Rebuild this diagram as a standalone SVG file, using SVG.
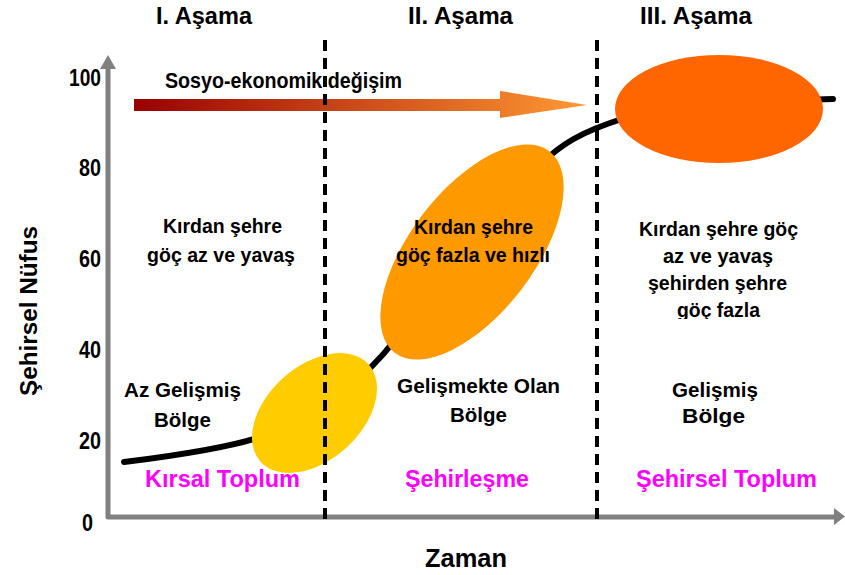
<svg xmlns="http://www.w3.org/2000/svg" width="845" height="575" viewBox="0 0 845 575">
<defs>
<style>
text{font-family:"Liberation Sans",Arial,sans-serif;font-weight:bold;fill:#000}
.t{font-size:21px}
.n{font-size:23px}
.h{font-size:23px}
.m{font-size:24px;fill:#FF00FF}
.axis{fill:none;stroke:#808080;stroke-width:5;stroke-linejoin:round}
.dash{stroke:#000;stroke-width:4;stroke-dasharray:11 7;fill:none}
</style>
<linearGradient id="grad" gradientUnits="userSpaceOnUse" x1="134" y1="0" x2="587" y2="0">
<stop offset="0" stop-color="#990000"/>
<stop offset="1" stop-color="#FF9933"/>
</linearGradient>
<clipPath id="clipLast"><rect x="600" y="290" width="245" height="29"/></clipPath>
</defs>
<rect width="845" height="575" fill="#fff"/>

<g id="axes">
<path class="axis" d="M108,68 L108,517 L836,517"/>
<polygon points="100,69 116,69 108,55" fill="#808080"/>
<polygon points="834,508 845,516.5 834,525" fill="#808080"/>
</g>

<g id="connectors">
<path d="M124,462 C180,455 230,447 260,437 L300,415 C330,400 360,385 395,340 L540,165 C560,145 580,132 625,118 L700,105 C760,100 800,100 833,99" fill="none" stroke="#000" stroke-width="6" stroke-linecap="round"/>
</g>

<g id="node-kirsal">
<ellipse cx="314.5" cy="413" rx="72.7" ry="47" transform="rotate(-42 314.5 413)" fill="#FFCC00"/>
</g>
<g id="node-gelismekte">
<ellipse cx="472" cy="252" rx="127" ry="62" transform="rotate(-52.5 472 252)" fill="#FF9900"/>
</g>
<g id="node-gelismis">
<ellipse cx="719" cy="109" rx="104" ry="54" fill="#FF6600"/>
</g>

<g id="socio-arrow">
<polygon points="134,99 500,99 500,91 587,105 500,118 500,111 134,111" fill="url(#grad)"/>
<text style="font-size:22px" x="165" y="88" textLength="237" lengthAdjust="spacingAndGlyphs">Sosyo-ekonomik değişim</text>
</g>

<g id="headings">
<text class="h" x="156" y="24" textLength="96" lengthAdjust="spacingAndGlyphs">I. Aşama</text>
<text class="h" x="408" y="24" textLength="105" lengthAdjust="spacingAndGlyphs">II. Aşama</text>
<text class="h" x="640" y="24" textLength="112" lengthAdjust="spacingAndGlyphs">III. Aşama</text>
</g>

<g id="y-ticks">
<text class="n" x="69" y="86" textLength="32" lengthAdjust="spacingAndGlyphs">100</text>
<text class="n" x="79" y="176" textLength="22" lengthAdjust="spacingAndGlyphs">80</text>
<text class="n" x="79" y="267" textLength="22" lengthAdjust="spacingAndGlyphs">60</text>
<text class="n" x="79" y="358" textLength="22" lengthAdjust="spacingAndGlyphs">40</text>
<text class="n" x="79" y="449" textLength="22" lengthAdjust="spacingAndGlyphs">20</text>
<text class="n" x="82" y="531" textLength="11" lengthAdjust="spacingAndGlyphs">0</text>
</g>

<g id="axis-titles">
<text style="font-size:24px" transform="translate(37,396) rotate(-90)" textLength="170" lengthAdjust="spacingAndGlyphs">Şehirsel Nüfus</text>
<text style="font-size:25px" x="425" y="567" textLength="82" lengthAdjust="spacingAndGlyphs">Zaman</text>
</g>

<g id="stage1-text">
<text class="t" x="163" y="233" textLength="119" lengthAdjust="spacingAndGlyphs">Kırdan şehre</text>
<text class="t" x="147" y="262" textLength="148" lengthAdjust="spacingAndGlyphs">göç az ve yavaş</text>
<text class="t" x="124" y="397" textLength="117" lengthAdjust="spacingAndGlyphs">Az Gelişmiş</text>
<text class="t" x="154" y="427" textLength="57" lengthAdjust="spacingAndGlyphs">Bölge</text>
<text class="m" x="145" y="487" textLength="155" lengthAdjust="spacingAndGlyphs">Kırsal Toplum</text>
</g>

<g id="stage2-text">
<text class="t" x="414" y="234" textLength="119" lengthAdjust="spacingAndGlyphs">Kırdan şehre</text>
<text class="t" x="396" y="262" textLength="154" lengthAdjust="spacingAndGlyphs">göç fazla ve hızlı</text>
<text class="t" x="397" y="393" textLength="163" lengthAdjust="spacingAndGlyphs">Gelişmekte Olan</text>
<text class="t" x="450" y="422" textLength="57" lengthAdjust="spacingAndGlyphs">Bölge</text>
<text class="m" x="405" y="487" textLength="124" lengthAdjust="spacingAndGlyphs">Şehirleşme</text>
</g>

<g id="stage3-text">
<text class="t" x="639" y="236" textLength="159" lengthAdjust="spacingAndGlyphs">Kırdan şehre göç</text>
<text class="t" x="663" y="263" textLength="110" lengthAdjust="spacingAndGlyphs">az ve yavaş</text>
<text class="t" x="648" y="290" textLength="139" lengthAdjust="spacingAndGlyphs">şehirden şehre</text>
<text class="t" x="677" y="317" textLength="83" lengthAdjust="spacingAndGlyphs" clip-path="url(#clipLast)">göç fazla</text>
<text class="t" x="672" y="397" textLength="86" lengthAdjust="spacingAndGlyphs">Gelişmiş</text>
<text class="t" x="682" y="423" textLength="63" lengthAdjust="spacingAndGlyphs">Bölge</text>
<text class="m" x="636" y="487" textLength="181" lengthAdjust="spacingAndGlyphs">Şehirsel Toplum</text>
</g>

<g id="stage-dividers">
<line class="dash" x1="325" y1="40" x2="325" y2="520"/>
<line class="dash" x1="597" y1="40" x2="597" y2="520"/>
</g>
</svg>
